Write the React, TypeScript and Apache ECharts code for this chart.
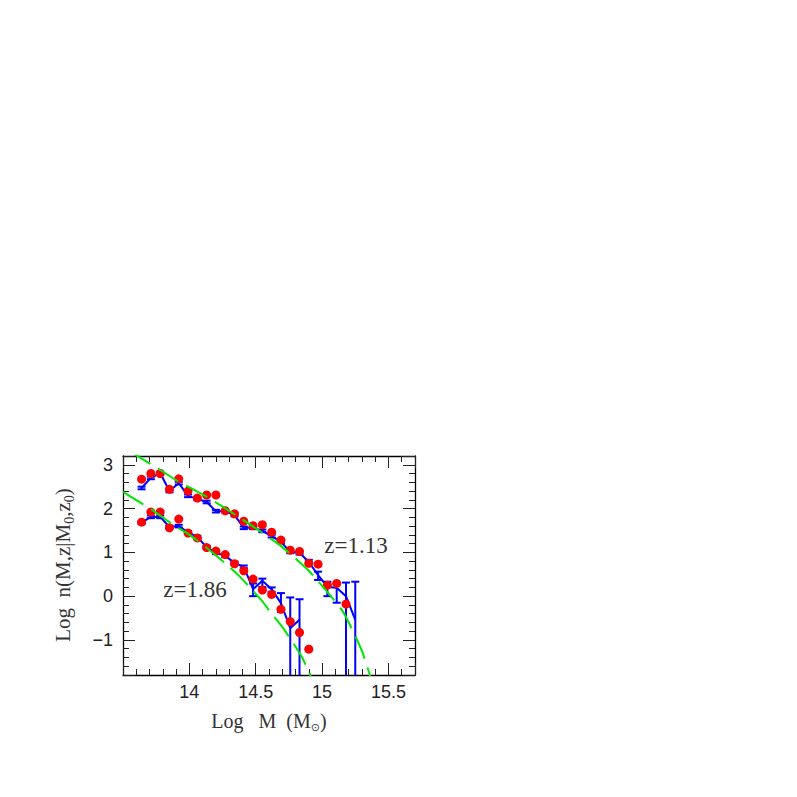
import React, { useEffect, useRef } from 'react';
import * as echarts from 'echarts';

// Mass bins (Log M)
const binX = [13.64, 13.71, 13.78, 13.85, 13.92, 13.99, 14.06, 14.13, 14.20, 14.27, 14.34, 14.41,
  14.48, 14.55, 14.62, 14.69, 14.76, 14.83, 14.90, 14.97, 15.04, 15.11, 15.18, 15.25];

// Red points, z=1.13 (upper) and z=1.86 (lower)
const upperDotY = [2.67, 2.80, 2.80, 2.44, 2.68, 2.40, 2.24, 2.31, 2.31, 1.95, 1.88, 1.71,
  1.61, 1.63, 1.46, 1.28, 1.05, 1.02, 0.75, 0.73, 0.25, 0.29, -0.18];
const lowerDotY = [1.69, 1.92, 1.92, 1.56, 1.76, 1.44, 1.33, 1.11, 1.03, 0.95, 0.74, 0.58,
  0.39, 0.14, 0.04, -0.30, -0.58, -0.83, -1.21];

// Blue simulation lines
const upperLineY = [2.47, 2.70, 2.81, 2.40, 2.58, 2.29, 2.22, 2.15, 1.94, 1.94, 1.85, 1.56,
  1.56, 1.49, 1.37, 1.24, 1.01, 0.99, 0.78, 0.48, 0.21, 0.19, 0.00, -0.54];
const upperErrUp = [0.03, 0.03, 0.03, 0.03, 0.03, 0.03, 0.03, 0.03, 0.03, 0.03, 0.03, 0.03,
  0.03, 0.03, 0.03, 0.03, 0.03, 0.04, 0.05, 0.08, 0.12, 0.10, 0.31, 0.87];
const upperErrDown = [0.03, 0.03, 0.03, 0.03, 0.03, 0.03, 0.03, 0.03, 0.03, 0.03, 0.03, 0.03,
  0.03, 0.03, 0.03, 0.03, 0.03, 0.04, 0.05, 0.11, 0.21, 0.34, 9, 9];

const lowerLineY = [1.68, 1.81, 1.81, 1.58, 1.60, 1.46, 1.35, 1.12, 0.99, 0.92, 0.76, 0.67,
  0.16, 0.35, 0.16, -0.16, -0.73, -0.54];
const lowerErrUp = [0.03, 0.03, 0.03, 0.03, 0.03, 0.03, 0.03, 0.03, 0.03, 0.03, 0.03, 0.03,
  0.13, 0.05, 0.04, 0.23, 0.70, 0.47];
const lowerErrDown = [0.03, 0.03, 0.03, 0.03, 0.03, 0.03, 0.03, 0.03, 0.03, 0.03, 0.03, 0.03,
  0.16, 0.14, 0.06, 0.20, 9, 9];

// Green dashed analytic curves
const upperCurve = [[13.55, 3.30], [13.62, 3.18], [13.76, 2.92], [13.90, 2.65], [14.13, 2.27],
  [14.37, 1.81], [14.53, 1.49], [14.68, 1.17], [14.80, 0.86], [14.90, 0.58], [14.97, 0.34],
  [15.05, 0.06], [15.15, -0.32], [15.22, -0.72], [15.30, -1.25], [15.36, -1.80], [15.38, -2.0]];
const lowerCurve = [[13.50, 2.38], [13.65, 2.10], [13.71, 1.99], [13.87, 1.65], [14.00, 1.40],
  [14.12, 1.13], [14.27, 0.75], [14.37, 0.48], [14.47, 0.15], [14.55, -0.12], [14.63, -0.44],
  [14.70, -0.70], [14.78, -1.06], [14.85, -1.40], [14.91, -1.80], [14.93, -1.95]];

const xTicks = { min: 13.5, max: 15.7, interval: 0.5 };
const yTicks = { min: -1.8, max: 3.2 };

const BLUE = '#0000ff';
const RED = '#ff0000';
const GREEN = '#00e600';

function pairs(xs: number[], ys: number[]) {
  return ys.map((y, i) => [xs[i], y]);
}

function errorSeries(ys: number[], up: number[], down: number[]) {
  return {
    type: 'custom',
    z: 2,
    clip: true,
    data: ys.map((y, i) => [binX[i], y - down[i], y + up[i]]),
    renderItem: (params: any, api: any) => {
      const x = api.value(0);
      const lo = api.value(1);
      const hi = api.value(2);
      const pHi = api.coord([x, hi]);
      const pLo = api.coord([x, lo]);
      const cs = params.coordSys;
      const bottom = cs.y + cs.height;
      const yLo = Math.min(pLo[1], bottom);
      const st = { stroke: BLUE, lineWidth: 2 };
      const children: any[] = [
        { type: 'line', shape: { x1: pHi[0], y1: pHi[1], x2: pHi[0], y2: yLo }, style: st },
        { type: 'line', shape: { x1: pHi[0] - 4, y1: pHi[1], x2: pHi[0] + 4, y2: pHi[1] }, style: st },
      ];
      if (pLo[1] <= bottom) {
        children.push({ type: 'line', shape: { x1: pLo[0] - 4, y1: pLo[1], x2: pLo[0] + 4, y2: pLo[1] }, style: st });
      }
      return { type: 'group', children };
    },
  };
}

const tickStyle = { color: '#222', width: 1 };

function makeX(position: 'bottom' | 'top', labels: boolean) {
  return {
    type: 'value',
    position,
    min: xTicks.min,
    max: xTicks.max,
    interval: xTicks.interval,
    axisLine: { show: true, onZero: false, lineStyle: { color: '#000', width: 1.3 } },
    axisTick: { show: true, inside: true, length: 12, lineStyle: tickStyle },
    minorTick: { show: true, splitNumber: 5, length: 6, lineStyle: tickStyle },
    splitLine: { show: false },
    minorSplitLine: { show: false },
    axisLabel: {
      show: labels,
      showMinLabel: false,
      showMaxLabel: false,
      margin: 8,
      fontFamily: 'Liberation Sans',
      fontSize: 18,
      color: '#222',
    },
  };
}

function makeY(position: 'left' | 'right', labels: boolean) {
  return {
    type: 'value',
    position,
    min: yTicks.min,
    max: yTicks.max,
    splitNumber: 5,
    axisLine: { show: true, onZero: false, lineStyle: { color: '#000', width: 1.3 } },
    axisTick: { show: true, inside: true, length: 12, lineStyle: tickStyle },
    minorTick: { show: true, splitNumber: 5, length: 6, lineStyle: tickStyle },
    splitLine: { show: false },
    minorSplitLine: { show: false },
    axisLabel: {
      show: labels,
      showMinLabel: false,
      showMaxLabel: false,
      margin: 10,
      fontFamily: 'Liberation Sans',
      fontSize: 18,
      color: '#222',
      formatter: (v: number) => {
        if (Math.abs(v - Math.round(v)) > 1e-6) return '';
        return v < 0 ? '\u2212' + Math.abs(v) : String(v);
      },
    },
  };
}

const serif = 'Liberation Serif';

export default function App() {
  const ref = useRef<HTMLDivElement>(null);
  useEffect(() => {
    const chart = echarts.init(ref.current!, null, { renderer: 'svg' });
    const option: any = {
      animation: false,
      backgroundColor: '#fff',
      grid: { left: 123, right: 382, top: 456, bottom: 122, containLabel: false },
      xAxis: [makeX('bottom', true), makeX('top', false)],
      yAxis: [makeY('left', true), makeY('right', false)],
      series: [
        {
          type: 'line', z: 2, data: pairs(binX, upperLineY), showSymbol: false,
          lineStyle: { color: BLUE, width: 2 }, silent: true,
        },
        {
          type: 'line', z: 2, data: pairs(binX, lowerLineY), showSymbol: false,
          lineStyle: { color: BLUE, width: 2 }, silent: true,
        },
        errorSeries(upperLineY, upperErrUp, upperErrDown),
        errorSeries(lowerLineY, lowerErrUp, lowerErrDown),
        {
          type: 'scatter', z: 3, data: pairs(binX, upperDotY), symbol: 'circle', symbolSize: 9,
          itemStyle: { color: RED, opacity: 1 },
        },
        {
          type: 'scatter', z: 3, data: pairs(binX, lowerDotY), symbol: 'circle', symbolSize: 9,
          itemStyle: { color: RED, opacity: 1 },
        },
        {
          type: 'line', z: 4, data: upperCurve, showSymbol: false, smooth: 0.2,
          lineStyle: { color: GREEN, width: 2, type: [24, 9] },
        },
        {
          type: 'line', z: 4, data: lowerCurve, showSymbol: false, smooth: 0.2,
          lineStyle: { color: GREEN, width: 2, type: [24, 9] },
        },
      ],
      graphic: [
        {
          type: 'text', x: 356, y: 545,
          style: { text: 'z=1.13', fontFamily: serif, fontSize: 23, fill: '#333', align: 'center', verticalAlign: 'middle' },
        },
        {
          type: 'text', x: 195, y: 589,
          style: { text: 'z=1.86', fontFamily: serif, fontSize: 23, fill: '#333', align: 'center', verticalAlign: 'middle' },
        },
        {
          type: 'text', x: 269, y: 721,
          style: {
            text: 'Log   M  (M{s|\u2299})',
            fontFamily: serif, fontSize: 20, fill: '#333', align: 'center', verticalAlign: 'middle',
            rich: { s: { fontFamily: 'DejaVu Sans', fontSize: 11, fill: '#333', padding: [12, 0, 0, 0] } },
          },
        },
        {
          type: 'text', x: 63, y: 565, rotation: Math.PI / 2,
          style: {
            text: 'Log  n(M,z|M{s|0},z{s|0})',
            fontFamily: serif, fontSize: 21, fill: '#333', align: 'center', verticalAlign: 'middle',
            rich: { s: { fontFamily: serif, fontSize: 14, fill: '#333', padding: [12, 0, 0, 0] } },
          },
        },
      ],
    };
    chart.setOption(option);
    return () => chart.dispose();
  }, []);
  return <div ref={ref} style={{ position: 'fixed', left: 0, top: 0, width: 797, height: 797 }} />;
}
